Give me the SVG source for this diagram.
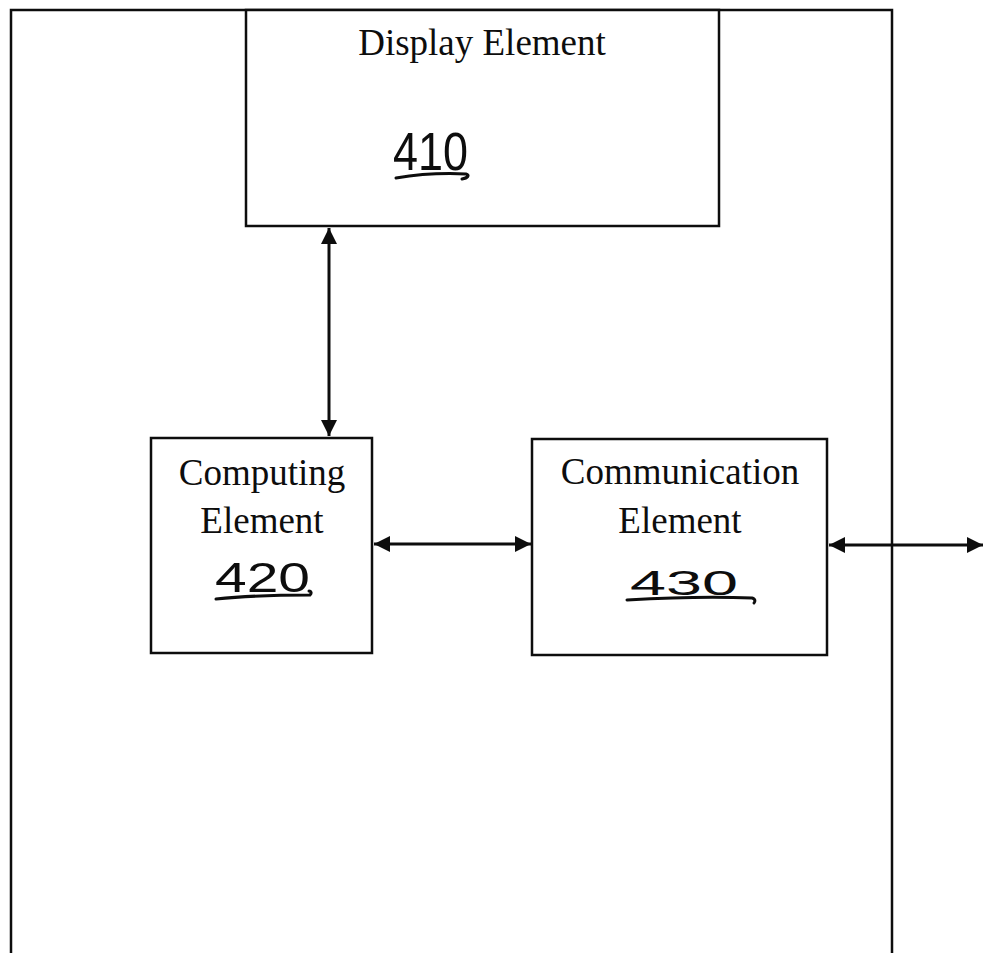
<svg xmlns="http://www.w3.org/2000/svg" width="983" height="953" viewBox="0 0 983 953">
  <defs>
    <style>
      .box { fill: #fff; stroke: #0d0d0d; stroke-width: 2.5; }
      .frame { fill: none; stroke: #0d0d0d; stroke-width: 2.5; }
      .label { font-family: "Liberation Serif", "Times New Roman", serif; font-size: 37px; fill: #0d0d0d; text-anchor: middle; }
      .ref { font-family: "Liberation Sans", Arial, sans-serif; fill: #0d0d0d; }
      .uline { fill: none; stroke: #0d0d0d; stroke-width: 3; stroke-linecap: round; }
      .conn { fill: none; stroke: #0d0d0d; stroke-width: 3; marker-start: url(#head); marker-end: url(#head); }
    </style>
    <marker id="head" viewBox="0 0 10 10" refX="10" refY="5" markerUnits="userSpaceOnUse" markerWidth="16" markerHeight="17" orient="auto-start-reverse">
      <path d="M0,0 L10,5 L0,10 z" fill="#0d0d0d"/>
    </marker>
  </defs>
  <rect width="983" height="953" fill="#fff"/>

  <!-- outer enclosure, open at the bottom -->
  <path class="frame" d="M11,953 L11,10 L892,10 L892,953"/>

  <g id="display-element">
    <rect class="box" x="246" y="10" width="473" height="216"/>
    <text class="label" x="482" y="55">Display Element</text>
    <text class="ref" x="393" y="170" font-size="54" textLength="75" lengthAdjust="spacingAndGlyphs">410</text>
    <path class="uline" d="M396,178 C420,174 445,173 466,174 C470,175 468,178 462,179"/>
  </g>

  <g id="computing-element">
    <rect class="box" x="151" y="438" width="221" height="215"/>
    <text class="label" x="262" y="485">Computing</text>
    <text class="label" x="262" y="533">Element</text>
    <text class="ref" x="215" y="592" font-size="42" textLength="95" lengthAdjust="spacingAndGlyphs">420</text>
    <path class="uline" d="M216,599 C245,596 280,595 310,595 C312,593 311,591 309,591"/>
  </g>

  <g id="communication-element">
    <rect class="box" x="532" y="439" width="295" height="216"/>
    <text class="label" x="680" y="484">Communication</text>
    <text class="label" x="680" y="533">Element</text>
    <text class="ref" x="630" y="595" font-size="35" textLength="108" lengthAdjust="spacingAndGlyphs">430</text>
    <path class="uline" d="M627,600 C660,598 710,596 752,598 C756,599 755,602 754,603"/>
  </g>

  <g id="connectors">
    <line class="conn" x1="329" y1="228" x2="329" y2="436"/>
    <line class="conn" x1="374" y1="544" x2="531" y2="544"/>
    <line class="conn" x1="829" y1="545" x2="983" y2="545"/>
  </g>
</svg>
